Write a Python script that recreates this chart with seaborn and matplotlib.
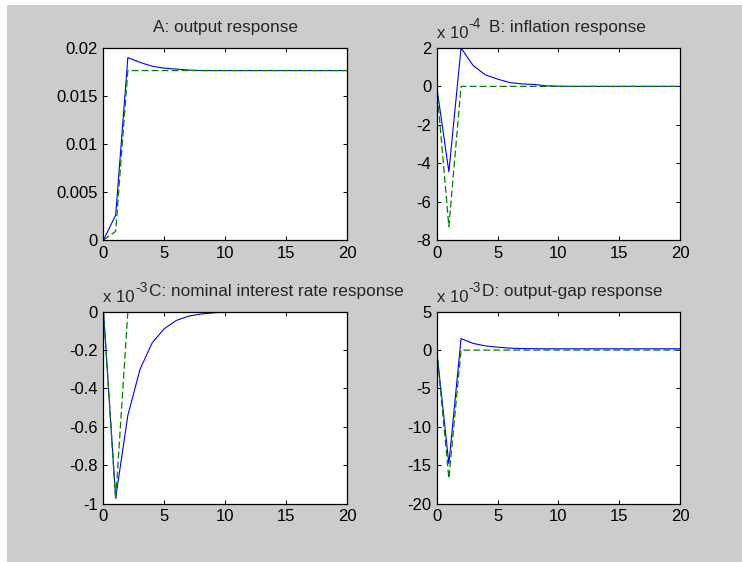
import matplotlib
matplotlib.use("Agg")
import matplotlib.pyplot as plt
from matplotlib.patches import Rectangle
from matplotlib.ticker import FuncFormatter
import seaborn as sns

# horizon (quarters)
periods = list(range(21))

# A: output response
output_solid = [0, 0.0026, 0.0190, 0.0185, 0.0181, 0.0179, 0.0178, 0.0177, 0.01765, 0.01765,
                0.01765, 0.01765, 0.01765, 0.01765, 0.01765, 0.01765, 0.01765, 0.01765, 0.01765,
                0.01765, 0.01765]
output_dashed = [0, 0.0009, 0.01765, 0.01765, 0.01765, 0.01765, 0.01765, 0.01765, 0.01765, 0.01765,
                 0.01765, 0.01765, 0.01765, 0.01765, 0.01765, 0.01765, 0.01765, 0.01765, 0.01765,
                 0.01765, 0.01765]

# B: inflation response (x 1e-4)
inflation_solid = [0, -4.45, 2.0, 1.08, 0.6, 0.38, 0.2, 0.13, 0.1, 0.03, 0.01,
                   0, 0, 0, 0, 0, 0, 0, 0, 0, 0]
inflation_dashed = [0, -7.3, 0, 0, 0, 0, 0, 0, 0, 0, 0,
                    0, 0, 0, 0, 0, 0, 0, 0, 0, 0]

# C: nominal interest rate response (x 1e-3)
interest_solid = [0, -0.97, -0.54, -0.30, -0.162, -0.088, -0.045, -0.023, -0.012, -0.006, -0.002,
                  -0.001, 0, 0, 0, 0, 0, 0, 0, 0, 0]
interest_dashed = [0, -0.98, 0, 0, 0, 0, 0, 0, 0, 0, 0,
                   0, 0, 0, 0, 0, 0, 0, 0, 0, 0]

# D: output-gap response (x 1e-3)
gap_solid = [0, -14.8, 1.5, 0.87, 0.55, 0.38, 0.26, 0.2, 0.18, 0.17, 0.17,
             0.17, 0.17, 0.17, 0.17, 0.17, 0.17, 0.17, 0.17, 0.17, 0.17]
gap_dashed = [0, -16.7, 0, 0, 0, 0, 0, 0, 0, 0, 0,
              0, 0, 0, 0, 0, 0, 0, 0, 0, 0]

sns.set_style("ticks")
plt.rcParams['font.family'] = ['Liberation Sans', 'DejaVu Sans']
plt.rcParams['axes.unicode_minus'] = False

W, H = 742, 562
fig = plt.figure(figsize=(W / 100, H / 100), dpi=100, facecolor='white')
fig.patches.append(Rectangle((7 / W, 0), 1 - 7 / W, 1 - 5 / H, transform=fig.transFigure,
                             facecolor='#cccccc', edgecolor='none', zorder=-10))

ax_w, ax_h = 243.5 / W, 192 / H
lefts = [103.5 / W, 436.7 / W]
bottoms = [1 - 240 / H, 1 - 503.7 / H]

panels = [
    dict(solid=output_solid, dashed=output_dashed, ylim=(0, 0.02),
         yticks=[0, 0.005, 0.01, 0.015, 0.02], title='A: output response', tx=None, exp=None),
    dict(solid=inflation_solid, dashed=inflation_dashed, ylim=(-8, 2),
         yticks=[-8, -6, -4, -2, 0, 2], title='B: inflation response', tx=0.216, exp='-4'),
    dict(solid=interest_solid, dashed=interest_dashed, ylim=(-1, 0),
         yticks=[-1, -0.8, -0.6, -0.4, -0.2, 0], title='C: nominal interest rate response',
         tx=0.186, exp='-3'),
    dict(solid=gap_solid, dashed=gap_dashed, ylim=(-20, 5),
         yticks=[-20, -15, -10, -5, 0, 5], title='D: output-gap response', tx=0.186, exp='-3'),
]

fmt = FuncFormatter(lambda v, p: '%g' % round(v, 6))

for i, pnl in enumerate(panels):
    ax = fig.add_axes([lefts[i % 2], bottoms[i // 2], ax_w, ax_h])
    ax.set_facecolor('white')
    sns.lineplot(x=periods, y=pnl['solid'], ax=ax, color='blue', linewidth=0.8)
    sns.lineplot(x=periods, y=pnl['dashed'], ax=ax, color=(0, 0.5, 0), linewidth=0.9,
                 linestyle='--')
    ax.lines[-1].set_dashes((5.5, 2.5))
    ax.set_xlim(0, 20)
    ax.set_ylim(*pnl['ylim'])
    ax.set_xticks([0, 5, 10, 15, 20])
    ax.set_yticks(pnl['yticks'])
    ax.yaxis.set_major_formatter(fmt)
    ax.tick_params(direction='in', top=True, right=True, length=3, width=0.7,
                   labelsize=12, pad=4, colors='black')
    for sp in ax.spines.values():
        sp.set_visible(True)
        sp.set_linewidth(0.9)
        sp.set_color('black')
    ax.set_xlabel('')
    ax.set_ylabel('')

    if pnl['tx'] is None:
        ax.text(0.5, 1 + 16 / 192, pnl['title'], transform=ax.transAxes,
                ha='center', va='baseline', fontsize=12.4)
    else:
        ax.text(pnl['tx'], 1 + 16 / 192, pnl['title'], transform=ax.transAxes,
                ha='left', va='baseline', fontsize=12.4)
    if pnl['exp']:
        # MATLAB-style exponent label: "x 10" with a raised exponent
        ax.text(0.0, 1 + 10 / 192, 'x 10', transform=ax.transAxes,
                ha='left', va='baseline', fontsize=12)
        ax.text(32 / 243.5, 1 + 20 / 192, pnl['exp'], transform=ax.transAxes,
                ha='left', va='baseline', fontsize=10)

fig.savefig('out.png', dpi=100, facecolor=fig.get_facecolor())
